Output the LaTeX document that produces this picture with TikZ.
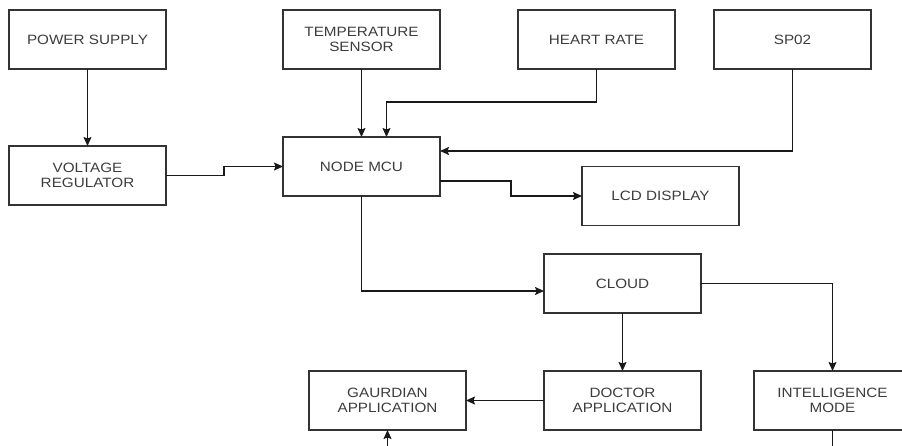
\documentclass[tikz,border=0pt]{standalone}
\usepackage{fontspec}
\setmainfont{Liberation Sans}[FakeStretch=1.13]
\usepackage{xcolor}
\usetikzlibrary{arrows.meta, positioning}
\definecolor{boxline}{RGB}{51,51,51}
\definecolor{boxtext}{RGB}{60,60,60}
\definecolor{wire}{RGB}{25,25,25}

\begin{document}
\begin{tikzpicture}[x=1pt, y=1pt,
  block/.style={rectangle, draw=boxline, line width=1.4pt, outer sep=0pt,
                minimum width=157pt, minimum height=59pt, inner sep=0pt,
                align=center, text=boxtext, font=\fontsize{13.5}{14.5}\selectfont},
  arrow/.style={-{Stealth[length=9pt, width=8pt, inset=1.5pt]}, line width=1.4pt, draw=wire}
]
\useasboundingbox (0,0) rectangle (902,-446);
\coordinate (floor) at (0,-446);

% Row 1: inputs
\node[block] (psu) at (87.5,-39.5) {POWER SUPPLY};
\node[block, right=117pt of psu] (temp) {TEMPERATURE\\SENSOR};
\node[block, right=78pt of temp] (heart) {HEART RATE};
\node[block, right=39pt of heart] (spo) {SP02};

% Row 2: controller
\node[block, below=77pt of psu] (vreg) {VOLTAGE\\REGULATOR};
\node[block, below=68pt of temp] (mcu) {NODE MCU};
\node[block, right=142pt of mcu, yshift=-29.5pt] (lcd) {LCD DISPLAY};

% Row 3: cloud and applications
\node[block, below=58pt of mcu, xshift=261pt] (cloud) {CLOUD};
\node[block, below=58pt of cloud] (doctor) {DOCTOR\\APPLICATION};
\node[block, left=78pt of doctor] (guard) {GAURDIAN\\APPLICATION};
\node[block, right=53pt of doctor] (intel) {INTELLIGENCE\\MODE};

% Arrows
\draw[arrow] (psu) -- (vreg);
\draw[arrow] (temp.south) -- (mcu.north);
\draw[arrow] (heart.south) -- ++(0,-33) -| ([xshift=25pt]mcu.north);
\draw[arrow] (spo.south) |- ([yshift=15.5pt]mcu.east);
\draw[arrow] (vreg.east) -- ++(58,0) |- (mcu.west);
\draw[arrow] ([yshift=-14.5pt]mcu.east) -- ++(71,0) |- (lcd.west);
\draw[arrow] (mcu.south) |- ([yshift=-7.5pt]cloud.west);
\draw[arrow] (cloud.east) -| (intel.north);
\draw[arrow] (cloud) -- (doctor);
\draw[arrow] (doctor) -- (guard);
\draw[arrow] (guard.south |- floor) -- (guard.south);
\draw[line width=1.4pt, wire] (intel.south) -- (intel.south |- floor);
\end{tikzpicture}
\end{document}
